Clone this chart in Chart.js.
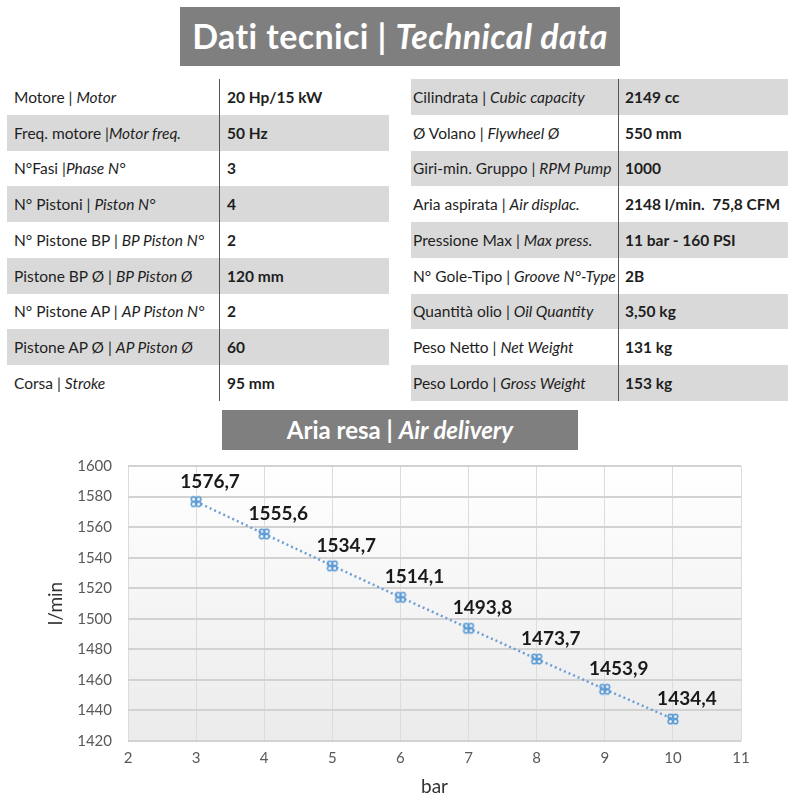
<!DOCTYPE html>
<html>
<head>
<meta charset="utf-8">
<script src="https://cdn.jsdelivr.net/npm/chart.js@4.4.1/dist/chart.umd.min.js"></script>
<style>
body{margin:0;width:800px;height:800px;background:#fff;font-family:Lato,"Open Sans",sans-serif;position:relative;overflow:hidden;color:#1e1e1e}
.titolo{position:absolute;background:#7f7f7f;color:#fff;text-align:center;white-space:nowrap;font-weight:bold}
#titolo1{left:180px;top:7px;width:440px;height:59px;line-height:58px;font-size:34px;letter-spacing:0.4px}
#titolo2{left:222px;top:410px;width:356px;height:40px;line-height:39px;font-size:24px}
.tab{position:absolute;top:79px;border-collapse:collapse;font-size:15.5px}
.tab td{height:35.75px;padding:0;white-space:nowrap}
.tab tr.grigia td{background:#d9d9d9}
.tab td.val{font-weight:bold;border-left:1px solid #555;font-size:15.5px}
#tabSx{left:7px}
#tabSx td.voce{width:205px;padding-left:7px}
#tabSx td.val{width:162px;padding-left:7px}
#tabDx{left:411px}
#tabDx td.voce{width:205px;padding-left:2px}
#tabDx td.val{width:163px;padding-left:6px}
#box{position:absolute;left:0;top:441px;width:800px;height:359px}
</style>
</head>
<body>
<div class="titolo" id="titolo1">Dati tecnici | <i>Technical data</i></div>
<table class="tab" id="tabSx"></table>
<table class="tab" id="tabDx"></table>
<div class="titolo" id="titolo2">Aria resa | <i>Air delivery</i></div>
<div id="box"><canvas id="grafica"></canvas></div>
<script>
// Tabella sinistra: voce italiana, voce inglese, valore
const vociSx = [["Motore | ", "Motor"], ["Freq. motore |", "Motor freq."], ["N°Fasi |", "Phase N°"], ["N° Pistoni | ", "Piston N°"], ["N° Pistone BP | ", "BP Piston N°"], ["Pistone BP Ø | ", "BP Piston Ø"], ["N° Pistone AP | ", "AP Piston N°"], ["Pistone AP Ø | ", "AP Piston Ø"], ["Corsa | ", "Stroke"]];
const valoriSx = ["20 Hp/15 kW", "50 Hz", "3", "4", "2", "120 mm", "2", "60", "95 mm"];
// Tabella destra
const vociDx = [["Cilindrata | ", "Cubic capacity"], ["Ø Volano | ", "Flywheel Ø"], ["Giri-min. Gruppo | ", "RPM Pump"], ["Aria aspirata | ", "Air displac."], ["Pressione Max | ", "Max press."], ["N° Gole-Tipo | ", "Groove N°-Type"], ["Quantità olio | ", "Oil Quantity"], ["Peso Netto | ", "Net Weight"], ["Peso Lordo | ", "Gross Weight"]];
const valoriDx = ["2149 cc", "550 mm", "1000", "2148 l/min.  75,8 CFM", "11 bar - 160 PSI", "2B", "3,50 kg", "131 kg", "153 kg"];

// Grafico aria resa
const pressioni = [3, 4, 5, 6, 7, 8, 9, 10]; // bar
const portate = [1576.7, 1555.6, 1534.7, 1514.1, 1493.8, 1473.7, 1453.9, 1434.4]; // l/min
const limitiX = [2, 11];
const limitiY = [1420, 1600];

function riempiTabella(id, voci, valori, primaGrigia) {
    const tab = document.getElementById(id);
    voci.forEach((v, i) => {
        const tr = document.createElement("tr");
        if ((i % 2 === 0) === primaGrigia) tr.className = "grigia";
        const td1 = document.createElement("td");
        td1.className = "voce";
        td1.innerHTML = v[0].replace(/ /g, "&nbsp;") + "<i>" + v[1] + "</i>";
        const td2 = document.createElement("td");
        td2.className = "val";
        td2.innerHTML = valori[i].replace(/  /g, "&nbsp; ");
        tr.appendChild(td1);
        tr.appendChild(td2);
        tab.appendChild(tr);
    });
}
riempiTabella("tabSx", vociSx, valoriSx, false);
riempiTabella("tabDx", vociDx, valoriDx, true);

// Marcatore stile Excel (quattro anelli)
const marcatore = document.createElement("canvas");
marcatore.width = 14;
marcatore.height = 14;
(function () {
    const c = marcatore.getContext("2d");
    c.strokeStyle = "#5b9bd5";
    c.lineWidth = 1.6;
    [[4.5, 4.5], [9.5, 4.5], [4.5, 9.5], [9.5, 9.5]].forEach(([x, y]) => {
        c.beginPath();
        c.arc(x, y, 2.3, 0, Math.PI * 2);
        c.stroke();
    });
})();

// Sfondo sfumato dell'area del grafico
const sfondo = {
    id: "sfondo",
    beforeDraw(chart) {
        const { ctx, chartArea: a } = chart;
        const g = ctx.createLinearGradient(0, a.top, 0, a.bottom);
        g.addColorStop(0, "#ffffff");
        g.addColorStop(1, "#ebebeb");
        ctx.save();
        ctx.fillStyle = g;
        ctx.fillRect(a.left, a.top, a.right - a.left, a.bottom - a.top);
        ctx.restore();
    }
};

// Etichette dei valori sopra i punti
const etichette = {
    id: "etichette",
    afterDatasetsDraw(chart) {
        const ctx = chart.ctx;
        const meta = chart.getDatasetMeta(0);
        ctx.save();
        ctx.font = "bold 19px Lato, sans-serif";
        ctx.fillStyle = "#1a1a1a";
        ctx.textAlign = "center";
        ctx.textBaseline = "middle";
        meta.data.forEach((p, i) => {
            ctx.fillText(portate[i].toFixed(1).replace(".", ","), p.x + 14, p.y - 20);
        });
        ctx.restore();
    }
};

new Chart(document.getElementById("grafica"), {
    type: "line",
    data: {
        datasets: [{
            data: pressioni.map((x, i) => ({ x: x, y: portate[i] })),
            borderColor: "#6d9fd6",
            borderWidth: 2.5,
            borderDash: [2, 3],
            pointStyle: marcatore,
            fill: false
        }]
    },
    options: {
        responsive: true,
        maintainAspectRatio: false,
        animation: false,
        layout: { padding: { left: 44, right: 59, top: 2, bottom: 0 } },
        plugins: { legend: { display: false }, tooltip: { enabled: false } },
        scales: {
            x: {
                type: "linear",
                min: limitiX[0],
                max: limitiX[1],
                ticks: { stepSize: 1, padding: 8, color: "#595959", font: { family: "Lato", size: 15 } },
                grid: { color: "#dcdcdc", lineWidth: 1, drawTicks: false },
                border: { display: false },
                title: { display: true, text: "bar", color: "#333", font: { family: "Lato", size: 19 }, padding: { top: 2, bottom: 2 } },
                afterFit(s) { s.height = 59; }
            },
            y: {
                min: limitiY[0],
                max: limitiY[1],
                ticks: { stepSize: 20, padding: 16, color: "#595959", font: { family: "Lato", size: 15 }, callback: v => String(v) },
                grid: { color: "#d2d2d2", lineWidth: 2, drawTicks: false },
                border: { display: false },
                title: { display: true, text: "l/min", color: "#333", font: { family: "Lato", size: 19 }, padding: 0 },
                afterFit(s) { s.width = 84; }
            }
        }
    },
    plugins: [sfondo, etichette]
});
</script>
</body>
</html>
